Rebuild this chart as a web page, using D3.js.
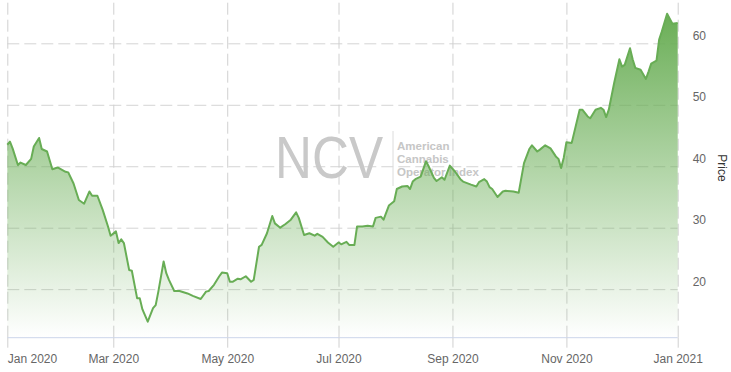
<!DOCTYPE html>
<html lang="en">
  <head>
    <meta charset="utf-8" />
    <style>
      html,
      body {
        margin: 0;
        padding: 0;
        background: #fff;
      }

      svg {
        display: block;
        font-family: 'Liberation Sans', Arial, sans-serif;
      }
    </style>
    <script src="https://d3js.org/d3.v7.min.js"></script>
  </head>
  <body>
    <svg width="731" height="372"></svg>

    <script>
      // trading-day index (0 = first session of 2020) and closing price
      var days = [0, 1, 2, 4, 5, 7, 9, 10, 12, 13, 15, 17, 19, 22, 23, 25, 27, 29, 31, 32, 34, 36, 38, 39, 41, 42,
        43, 44, 46, 47, 49, 50, 51, 53, 55, 56, 57, 59, 60, 61, 63, 65, 68, 70, 73, 75, 76, 78, 80, 81, 83, 84, 85,
        87, 88, 90, 92, 93, 95, 96, 98, 100, 101, 103, 105, 107, 109, 110, 112, 114, 116, 117, 119, 121, 123, 125,
        126, 128, 129, 131, 132, 134, 136, 138, 139, 141, 142, 144, 146, 147, 149, 151, 152, 153, 154, 156, 158,
        159, 161, 162, 164, 165, 167, 169, 171, 172, 175, 177, 178, 180, 181, 182, 183, 185, 187, 188, 191, 193,
        195, 197, 198, 200, 201, 203, 205, 207, 208, 209, 210, 211, 213, 216, 217, 219, 220, 222, 224, 225, 226,
        227, 229, 231, 232, 233, 235, 236, 237, 239, 241, 242, 243, 245, 246, 247, 249, 251, 253];
      var price = [43.5, 44.0, 42.9, 40.2, 40.6, 40.2, 41.2, 43.2, 44.6, 42.8, 42.4, 39.5, 39.8, 39.1, 39.0, 37.2,
        34.5, 33.9, 35.9, 35.2, 35.2, 32.9, 30.2, 28.7, 29.4, 27.5, 28.1, 27.5, 23.1, 23.0, 18.5, 18.5, 16.7, 14.7,
        16.9, 17.4, 19.6, 24.5, 22.6, 21.5, 19.7, 19.7, 19.3, 18.9, 18.4, 19.6, 19.7, 20.7, 22.1, 22.7, 22.6, 21.2,
        21.2, 21.7, 21.6, 22.1, 21.2, 21.5, 26.9, 27.2, 29.1, 31.9, 30.7, 30.0, 30.6, 31.3, 32.5, 31.6, 28.8, 29.1,
        28.7, 29.0, 28.5, 27.6, 26.9, 27.6, 27.3, 27.7, 27.2, 27.2, 30.2, 30.2, 30.3, 30.2, 31.6, 31.8, 31.3, 33.6,
        34.3, 36.3, 36.7, 36.8, 36.3, 37.5, 37.9, 38.3, 40.8, 40.0, 38.1, 37.6, 38.2, 37.8, 40.1, 39.1, 37.9, 37.5,
        37.0, 36.7, 37.4, 37.9, 37.5, 36.6, 36.3, 35.0, 35.9, 36.0, 35.9, 35.7, 40.5, 42.8, 43.4, 42.4, 42.7, 43.4,
        42.9, 41.6, 41.2, 39.7, 41.4, 43.9, 43.8, 49.2, 49.2, 48.1, 47.8, 49.2, 49.5, 49.2, 48.0, 49.2, 53.5, 57.4,
        56.2, 56.5, 59.2, 57.4, 56.0, 55.7, 54.2, 55.4, 56.7, 57.2, 60.6, 61.9, 64.8, 63.2, 63.3];

      var tickDays = [0, 40, 83, 125, 168, 211, 253];
      var tickLabels = ['Jan 2020', 'Mar 2020', 'May 2020', 'Jul 2020', 'Sep 2020', 'Nov 2020', 'Jan 2021'];
      var priceTicks = [20, 30, 40, 50, 60];

      var svg = d3.select('svg'),
        plotLeft = 7.3,
        plotRight = 677.7,
        plotTop = 0,
        plotBottom = 337.7;

      var x = d3.scaleLinear().domain([0, 253]).range([plotLeft, plotRight]);
      var y = d3.scaleLinear().domain([12.1, 67.05]).range([plotBottom, plotTop]);

      var data = days.map(function(d, i) { return { d: d, v: price[i] }; });

      var grad = svg.append('defs').append('linearGradient')
        .attr('id', 'fill')
        .attr('x1', 0).attr('y1', 0).attr('x2', 0).attr('y2', 1);
      grad.append('stop').attr('offset', 0).attr('stop-color', '#6aae56').attr('stop-opacity', 1);
      grad.append('stop').attr('offset', 1).attr('stop-color', '#6aae56').attr('stop-opacity', 0);

      // horizontal grid
      svg.append('g')
        .attr('transform', 'translate(' + plotLeft + ',0)')
        .call(d3.axisLeft(y).tickValues(priceTicks).tickSize(-(plotRight - plotLeft)).tickFormat(''))
        .call(function(g) {
          g.select('.domain').remove();
          g.selectAll('line').attr('stroke', '#d4d4d4').attr('stroke-dasharray', '12,5');
        });

      // vertical grid
      svg.append('g')
        .attr('transform', 'translate(0,' + plotBottom + ')')
        .call(d3.axisBottom(x).tickValues(tickDays).tickSizeInner(-(plotBottom - plotTop)).tickSizeOuter(0).tickFormat(''))
        .call(function(g) {
          g.select('.domain').remove();
          g.selectAll('line').attr('stroke', '#d0d0d0').attr('stroke-dasharray', '12,5');
        });

      // watermark
      var wm = svg.append('g');
      wm.append('text')
        .attr('x', 275).attr('y', 178)
        .attr('font-size', 60)
        .attr('textLength', 108)
        .attr('lengthAdjust', 'spacingAndGlyphs')
        .attr('fill', '#c9c9c9')
        .text('NCV');
      wm.append('line')
        .attr('x1', 393).attr('x2', 393).attr('y1', 131).attr('y2', 186)
        .attr('stroke', '#dcdcdc');
      wm.selectAll('text.sub')
        .data(['American', 'Cannabis', 'Operator Index'])
        .enter().append('text')
        .attr('class', 'sub')
        .attr('x', 397)
        .attr('y', function(d, i) { return 149.5 + i * 13.2; })
        .attr('font-size', 11.5)
        .attr('font-weight', 'bold')
        .attr('fill', '#c6c6c6')
        .text(function(d) { return d; });

      // area + line
      svg.append('path')
        .datum(data)
        .attr('fill', 'url(#fill)')
        .attr('d', d3.area()
          .x(function(d) { return x(d.d); })
          .y0(plotBottom)
          .y1(function(d) { return y(d.v); }));

      svg.append('path')
        .datum(data)
        .attr('fill', 'none')
        .attr('stroke', '#68ad55')
        .attr('stroke-width', 2)
        .attr('stroke-linejoin', 'round')
        .attr('d', d3.line()
          .x(function(d) { return x(d.d); })
          .y(function(d) { return y(d.v); }));

      // x axis
      svg.append('g')
        .attr('transform', 'translate(0,' + plotBottom + ')')
        .call(d3.axisBottom(x).tickValues(tickDays).tickSize(10).tickPadding(6.5)
          .tickFormat(function(d, i) { return tickLabels[i]; }))
        .call(function(g) {
          g.select('.domain').attr('stroke', '#ccd6eb').attr('d', 'M' + plotLeft + ',0H' + plotRight);
          g.selectAll('line').attr('stroke', '#d0d0d0');
          g.selectAll('text')
            .attr('fill', '#666')
            .attr('font-size', 12)
            .attr('font-family', "'Liberation Sans', Arial, sans-serif")
            .attr('text-anchor', function(d, i) { return i === 0 ? 'start' : 'middle'; });
        });

      // y axis labels (right)
      svg.append('g')
        .attr('transform', 'translate(' + plotRight + ',0)')
        .call(d3.axisRight(y).tickValues(priceTicks).tickSize(0).tickPadding(15))
        .call(function(g) {
          g.select('.domain').remove();
          g.selectAll('text')
            .attr('fill', '#666')
            .attr('font-size', 12)
            .attr('font-family', "'Liberation Sans', Arial, sans-serif")
            .attr('dy', '-0.33em');
        });

      svg.append('text')
        .attr('transform', 'translate(718,168) rotate(90)')
        .attr('text-anchor', 'middle')
        .attr('font-size', 12)
        .attr('fill', '#333')
        .text('Price');
    </script>
  </body>
</html>
